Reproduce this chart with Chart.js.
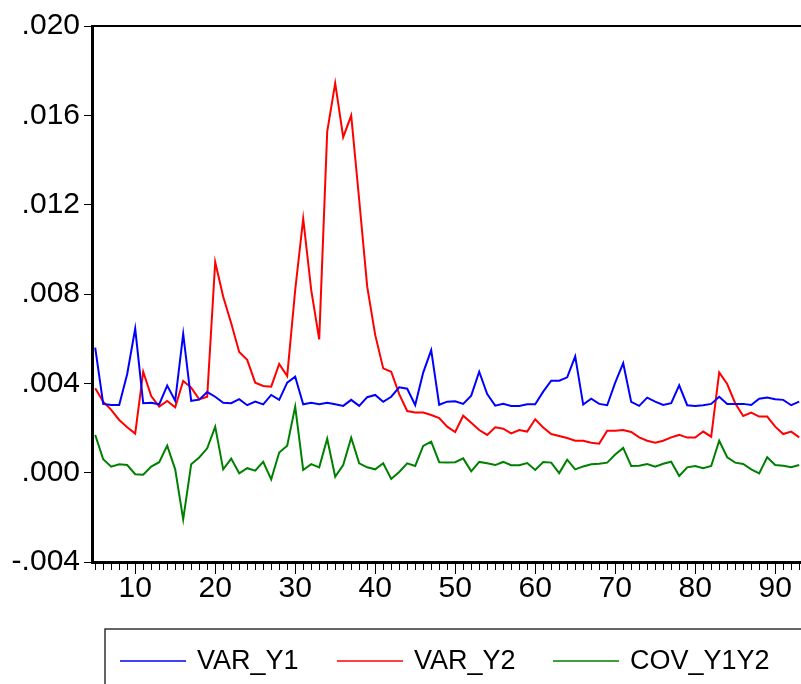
<!DOCTYPE html>
<html>
<head>
<meta charset="utf-8">
<script src="https://cdn.jsdelivr.net/npm/chart.js@4.4.1/dist/chart.umd.min.js"></script>
<style>
  html, body { margin: 0; padding: 0; background: #fff; }
  #wrap { width: 801px; height: 684px; overflow: hidden; position: relative; }
  #wrap canvas { display: block; }
</style>
</head>
<body>
<div id="wrap"><canvas id="chart" width="812" height="684"></canvas></div>
<script>
// observation numbers start at 5
const firstObs = 5;

const varY1 = [
  0.00560, 0.00308, 0.00303, 0.00303, 0.00442, 0.00645, 0.00311, 0.00313, 0.00306, 0.00390,
  0.00322, 0.00621, 0.00322, 0.00327, 0.00361, 0.00340, 0.00313, 0.00311, 0.00329, 0.00302,
  0.00318, 0.00306, 0.00348, 0.00326, 0.00403, 0.00430, 0.00306, 0.00313, 0.00306, 0.00313,
  0.00306, 0.00299, 0.00326, 0.00299, 0.00338, 0.00348, 0.00317, 0.00340, 0.00382, 0.00376,
  0.00303, 0.00448, 0.00549, 0.00304, 0.00318, 0.00320, 0.00308, 0.00345, 0.00452, 0.00352,
  0.00300, 0.00308, 0.00299, 0.00299, 0.00306, 0.00306, 0.00363, 0.00412, 0.00412, 0.00427,
  0.00521, 0.00305, 0.00331, 0.00308, 0.00302, 0.00403, 0.00490, 0.00317, 0.00299, 0.00336,
  0.00318, 0.00303, 0.00311, 0.00391, 0.00302, 0.00299, 0.00302, 0.00308, 0.00340, 0.00308,
  0.00308, 0.00308, 0.00303, 0.00331, 0.00336, 0.00329, 0.00326, 0.00302, 0.00318
];

const varY2 = [
  0.00378, 0.00318, 0.00281, 0.00236, 0.00203, 0.00175, 0.00452, 0.00343, 0.00296, 0.00321,
  0.00293, 0.00411, 0.00381, 0.00328, 0.00340, 0.00943, 0.00788, 0.00669, 0.00540, 0.00505,
  0.00403, 0.00388, 0.00385, 0.00487, 0.00433, 0.00818, 0.01137, 0.00818, 0.00597, 0.01527,
  0.01744, 0.01502, 0.01599, 0.01221, 0.00833, 0.00617, 0.00467, 0.00452, 0.00352, 0.00276,
  0.00269, 0.00269, 0.00258, 0.00244, 0.00206, 0.00182, 0.00255, 0.00224, 0.00191, 0.00169,
  0.00203, 0.00197, 0.00176, 0.00191, 0.00184, 0.00239, 0.00202, 0.00173, 0.00164, 0.00155,
  0.00143, 0.00143, 0.00134, 0.00130, 0.00188, 0.00188, 0.00191, 0.00182, 0.00158, 0.00143,
  0.00134, 0.00143, 0.00158, 0.00169, 0.00157, 0.00157, 0.00184, 0.00161, 0.00449, 0.00397,
  0.00311, 0.00254, 0.00269, 0.00251, 0.00251, 0.00206, 0.00173, 0.00184, 0.00158
];

const covY1Y2 = [
  0.00169, 0.00060, 0.00027, 0.00038, 0.00034, -0.00007, -0.00009, 0.00027, 0.00047, 0.00121,
  0.00015, -0.00209, 0.00038, 0.00068, 0.00109, 0.00206, 0.00015, 0.00063, -0.00003, 0.00020,
  0.00009, 0.00049, -0.00030, 0.00090, 0.00121, 0.00296, 0.00012, 0.00038, 0.00024, 0.00152,
  -0.00018, 0.00034, 0.00157, 0.00042, 0.00024, 0.00015, 0.00042, -0.00028, 0.00003, 0.00042,
  0.00030, 0.00120, 0.00139, 0.00047, 0.00045, 0.00047, 0.00064, 0.00006, 0.00048, 0.00042,
  0.00034, 0.00048, 0.00033, 0.00033, 0.00043, 0.00012, 0.00048, 0.00045, -0.00002, 0.00058,
  0.00015, 0.00028, 0.00038, 0.00040, 0.00045, 0.00081, 0.00111, 0.00030, 0.00031, 0.00039,
  0.00027, 0.00040, 0.00049, -0.00015, 0.00024, 0.00030, 0.00020, 0.00030, 0.00143, 0.00069,
  0.00045, 0.00039, 0.00015, -0.00003, 0.00069, 0.00034, 0.00031, 0.00024, 0.00034
];

const seriesNames = ["VAR_Y1", "VAR_Y2", "COV_Y1Y2"];
const seriesColors = ["#0000ff", "#ff0000", "#008000"];
const yTicks = [-0.004, 0.000, 0.004, 0.008, 0.012, 0.016, 0.020];
const xMin = 4.6;
const xMax = 94.6;

const FONT = "'Liberation Sans', Arial, sans-serif";
const tickSize = 30;
const legendSize = 27;
// left edge of each legend entry's line sample
const legendX = [120, 337, 553];

const toPoints = (arr) => arr.map((v, i) => ({ x: firstObs + i, y: v }));

const fmtY = (v) => {
  let s = v.toFixed(3);
  return s.replace("0.", ".");
};

// top frame line + legend box drawn after the chart
const framePlugin = {
  id: "frame",
  afterDraw(chart) {
    const ctx = chart.ctx;
    const a = chart.chartArea;
    ctx.save();
    ctx.strokeStyle = "#000";
    ctx.lineWidth = 2;
    ctx.beginPath();
    ctx.moveTo(a.left, a.top);
    ctx.lineTo(a.right, a.top);
    ctx.stroke();

    // legend
    ctx.lineWidth = 1.5;
    ctx.strokeStyle = "#333";
    ctx.strokeRect(105, 629, 760, 80);
    ctx.font = legendSize + "px " + FONT;
    ctx.textBaseline = "middle";
    ctx.fillStyle = "#000";
    const yMid = 661;
    chart.data.datasets.forEach((ds, i) => {
      const x = legendX[i];
      ctx.strokeStyle = ds.borderColor;
      ctx.lineWidth = 1.5;
      ctx.beginPath();
      ctx.moveTo(x, yMid);
      ctx.lineTo(x + 66, yMid);
      ctx.stroke();
      ctx.fillText(ds.label, x + 77, yMid + 1);
    });
    ctx.restore();
  },
};

new Chart(document.getElementById("chart").getContext("2d"), {
  type: "line",
  data: {
    datasets: [varY1, varY2, covY1Y2].map((arr, i) => ({
      label: seriesNames[i],
      data: toPoints(arr),
      borderColor: seriesColors[i],
      backgroundColor: seriesColors[i],
      borderWidth: 2,
      pointRadius: 0,
      tension: 0,
      fill: false,
    })),
  },
  options: {
    responsive: false,
    animation: false,
    devicePixelRatio: 1,
    layout: { padding: { left: 0, top: 26, right: 0, bottom: 72 } },
    plugins: {
      legend: { display: false },
      tooltip: { enabled: false },
    },
    scales: {
      x: {
        type: "linear",
        min: xMin,
        max: xMax,
        afterBuildTicks: (scale) => {
          const t = [];
          for (let v = Math.ceil(xMin); v <= Math.floor(xMax); v++) t.push({ value: v });
          scale.ticks = t;
        },
        afterFit: (scale) => {
          scale.height = 50;
        },
        border: { display: true, color: "#000", width: 3 },
        grid: {
          drawOnChartArea: false,
          drawTicks: true,
          tickLength: 12,
          tickColor: "#000",
          tickWidth: 1,
          tickBorderDash: (ctx) => (ctx.tick && ctx.tick.value % 10 !== 0 ? [6, 20] : []),
        },
        ticks: {
          autoSkip: false,
          maxRotation: 0,
          padding: -3,
          color: "#000",
          font: { family: FONT, size: tickSize },
          callback: (v) => (v % 10 === 0 ? String(v) : ""),
        },
      },
      y: {
        min: -0.004,
        max: 0.020,
        afterBuildTicks: (scale) => {
          scale.ticks = yTicks.map((v) => ({ value: v }));
        },
        afterFit: (scale) => {
          scale.width = 92;
        },
        border: { display: true, color: "#000", width: 3 },
        grid: {
          drawOnChartArea: false,
          tickLength: 8,
          tickColor: "#000",
        },
        ticks: {
          padding: 4,
          color: "#000",
          font: { family: FONT, size: tickSize },
          callback: (v) => fmtY(v),
        },
      },
    },
  },
  plugins: [framePlugin],
});
</script>
</body>
</html>
